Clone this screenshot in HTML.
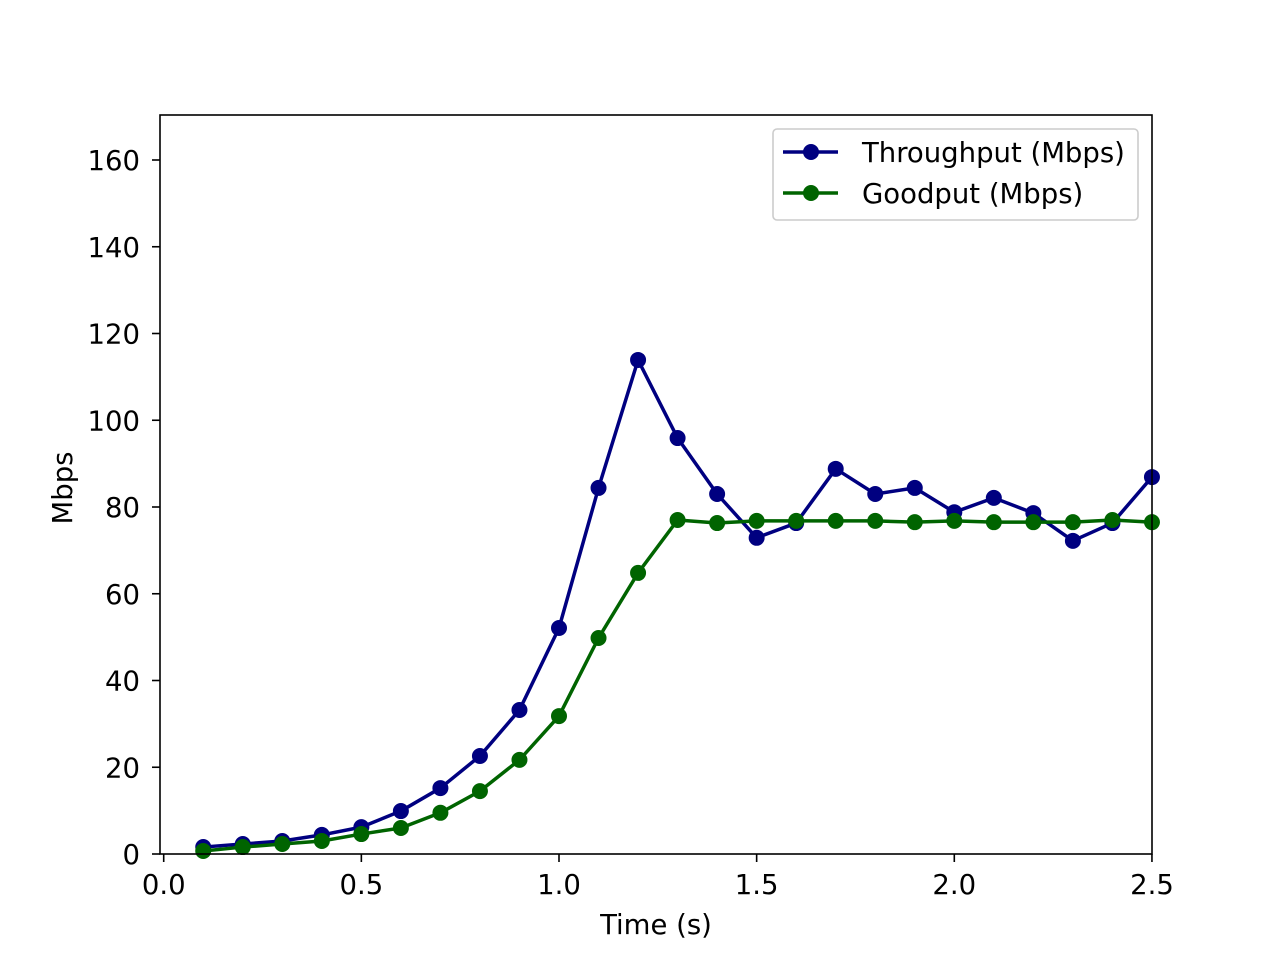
<!DOCTYPE html>
<html><head><meta charset="utf-8"><style>
html,body{margin:0;padding:0;background:#fff;}
svg text{font-family:"DejaVu Sans","Liberation Sans",sans-serif;font-size:27.5px;fill:#000;}
</style></head><body>
<svg id="chart" width="1280" height="960" xmlns="http://www.w3.org/2000/svg">
<rect width="1280" height="960" fill="#fff"/>
<g id="series"></g>
<rect x="160" y="115" width="992" height="739" fill="none" stroke="#000" stroke-width="1.6"/>
<g id="axes"></g>
<text x="656" y="934" text-anchor="middle">Time (s)</text>
<text transform="translate(72,488) rotate(-90)" text-anchor="middle">Mbps</text>
<g>
<rect x="773" y="129" width="365" height="91" rx="4" fill="#fff" fill-opacity="0.8" stroke="#ccc" stroke-width="1.6"/>
<line x1="783" y1="152" x2="838" y2="152" stroke="#000080" stroke-width="3.5"/>
<circle cx="811" cy="152" r="8" fill="#000080"/>
<text x="862" y="162">Throughput (Mbps)</text>
<line x1="783" y1="193" x2="838" y2="193" stroke="#006400" stroke-width="3.5"/>
<circle cx="811" cy="193" r="8" fill="#006400"/>
<text x="862" y="203">Goodput (Mbps)</text>
</g>
</svg>
<script>
const times=[0.1,0.2,0.3,0.4,0.5,0.6,0.7,0.8,0.9,1.0,1.1,1.2,1.3,1.4,1.5,1.6,1.7,1.8,1.9,2.0,2.1,2.2,2.3,2.4,2.5];
const throughput=[1.6,2.3,3,4.4,6.2,9.9,15.2,22.6,33.2,52.1,84.4,113.9,95.9,83,72.9,76.3,88.8,83,84.4,78.8,82.1,78.6,72.2,76.3,86.9];
const goodput=[0.7,1.6,2.3,3,4.6,6,9.5,14.5,21.7,31.8,49.8,64.8,77,76.3,76.8,76.8,76.8,76.8,76.5,76.8,76.5,76.5,76.5,77,76.5];
const xTicks=[0.0,0.5,1.0,1.5,2.0,2.5];
const yTicks=[0,20,40,60,80,100,120,140,160];
const X=v=>163.7+v*395.3;
const Y=v=>854-v*4.3375;
const NS='http://www.w3.org/2000/svg';
const axes=document.getElementById('axes'),ser=document.getElementById('series');
function mk(t,a,p){const e=document.createElementNS(NS,t);for(const k in a)e.setAttribute(k,a[k]);p.appendChild(e);return e;}
xTicks.forEach(v=>{
 const l=mk('line',{x1:X(v),x2:X(v),y1:854,y2:862,stroke:'#000','stroke-width':1.6},axes);
 
 
 const t=mk('text',{x:X(v),y:894,'text-anchor':'middle'},axes);t.textContent=v.toFixed(1);
 
 
});
yTicks.forEach(v=>{
 const l=mk('line',{x1:152,x2:160,y1:Y(v),y2:Y(v),stroke:'#000','stroke-width':1.6},axes);
 
 
 const t=mk('text',{x:140,y:Y(v)+10,'text-anchor':'end'},axes);t.textContent=v;
 
 
});
function draw(vals,color,name){
 const p=mk('polyline',{points:vals.map((v,i)=>X(times[i])+','+Y(v)).join(' '),fill:'none',stroke:color,'stroke-width':3.5,'stroke-linejoin':'round'},ser);
 
 
 vals.forEach((v,i)=>{
  const c=mk('circle',{cx:X(times[i]),cy:Y(v),r:8,fill:color},ser);
  
  
 });
}
draw(throughput,'#000080','throughput');
draw(goodput,'#006400','goodput');
</script>
</body></html>
